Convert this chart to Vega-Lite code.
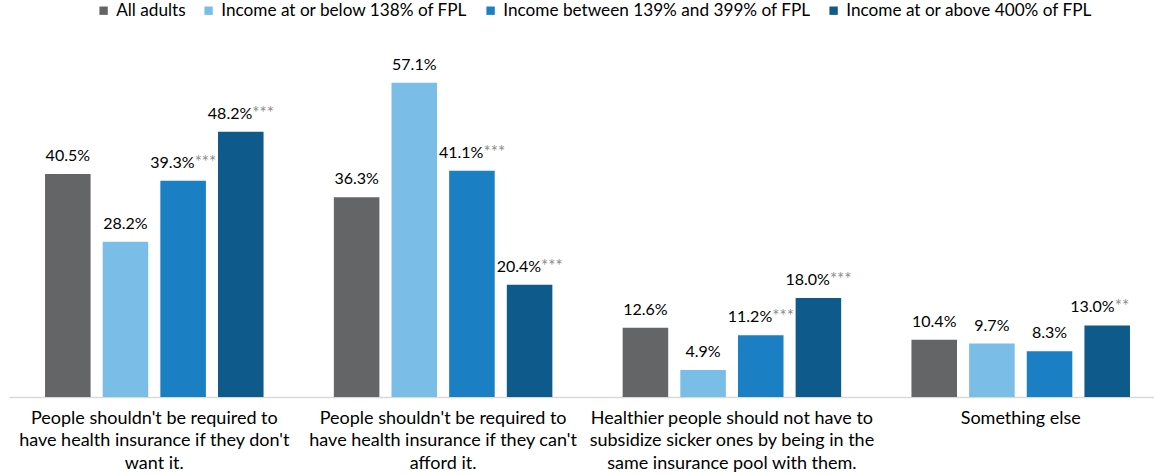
{
  "$schema": "https://vega.github.io/schema/vega-lite/v6.json",
  "width": 1145,
  "height": 367,
  "autosize": {"type": "none"},
  "padding": {"left": 9, "top": 30, "right": 0, "bottom": 78},
  "config": {
    "view": {"stroke": null},
    "font": "Lato",
    "text": {"font": "Lato"}
  },
  "data": {
    "values": [
      {"q": "People shouldn't be required to|have health insurance if they don't|want it.", "group": "All adults", "value": 0.405, "stars": ""},
      {"q": "People shouldn't be required to|have health insurance if they don't|want it.", "group": "Income at or below 138% of FPL", "value": 0.282, "stars": ""},
      {"q": "People shouldn't be required to|have health insurance if they don't|want it.", "group": "Income between 139% and 399% of FPL", "value": 0.393, "stars": "***"},
      {"q": "People shouldn't be required to|have health insurance if they don't|want it.", "group": "Income at or above 400% of FPL", "value": 0.482, "stars": "***"},
      {"q": "People shouldn't be required to|have health insurance if they can't|afford it.", "group": "All adults", "value": 0.363, "stars": ""},
      {"q": "People shouldn't be required to|have health insurance if they can't|afford it.", "group": "Income at or below 138% of FPL", "value": 0.571, "stars": ""},
      {"q": "People shouldn't be required to|have health insurance if they can't|afford it.", "group": "Income between 139% and 399% of FPL", "value": 0.411, "stars": "***"},
      {"q": "People shouldn't be required to|have health insurance if they can't|afford it.", "group": "Income at or above 400% of FPL", "value": 0.204, "stars": "***"},
      {"q": "Healthier people should not have to|subsidize sicker ones by being in the|same insurance pool with them.", "group": "All adults", "value": 0.126, "stars": ""},
      {"q": "Healthier people should not have to|subsidize sicker ones by being in the|same insurance pool with them.", "group": "Income at or below 138% of FPL", "value": 0.049, "stars": ""},
      {"q": "Healthier people should not have to|subsidize sicker ones by being in the|same insurance pool with them.", "group": "Income between 139% and 399% of FPL", "value": 0.112, "stars": "***"},
      {"q": "Healthier people should not have to|subsidize sicker ones by being in the|same insurance pool with them.", "group": "Income at or above 400% of FPL", "value": 0.180, "stars": "***"},
      {"q": "Something else", "group": "All adults", "value": 0.104, "stars": ""},
      {"q": "Something else", "group": "Income at or below 138% of FPL", "value": 0.097, "stars": ""},
      {"q": "Something else", "group": "Income between 139% and 399% of FPL", "value": 0.083, "stars": ""},
      {"q": "Something else", "group": "Income at or above 400% of FPL", "value": 0.130, "stars": "**"}
    ]
  },
  "encoding": {
    "x": {
      "field": "q",
      "type": "nominal",
      "sort": null,
      "scale": {"paddingInner": 0.2434, "paddingOuter": 0.104, "align": 0.6},
      "axis": {
        "title": null,
        "labelAngle": 0,
        "labelExpr": "split(datum.label, '|')",
        "labelFontSize": 18,
        "labelLineHeight": 22.5,
        "labelPadding": 12,
        "labelColor": "#000000",
        "labelLimit": 0,
        "labelFont": "Lato",
        "ticks": false,
        "domainColor": "#d9d9d9",
        "domainWidth": 1.5
      }
    },
    "xOffset": {
      "field": "group",
      "type": "nominal",
      "sort": ["All adults", "Income at or below 138% of FPL", "Income between 139% and 399% of FPL", "Income at or above 400% of FPL"],
      "scale": {"paddingInner": 0.21, "paddingOuter": 0}
    },
    "y": {
      "field": "value",
      "type": "quantitative",
      "scale": {"domain": [0, 0.6667], "nice": false, "zero": true},
      "axis": null
    }
  },
  "layer": [
    {
      "mark": {"type": "bar"},
      "encoding": {
        "color": {
          "field": "group",
          "type": "nominal",
          "sort": ["All adults", "Income at or below 138% of FPL", "Income between 139% and 399% of FPL", "Income at or above 400% of FPL"],
          "scale": {
            "domain": ["All adults", "Income at or below 138% of FPL", "Income between 139% and 399% of FPL", "Income at or above 400% of FPL"],
            "range": ["#646567", "#7abde7", "#1a7fc3", "#0e5a8a"]
          },
          "legend": {
            "title": null,
            "orient": "none",
            "direction": "horizontal",
            "legendX": 86,
            "legendY": -28,
            "symbolType": "square",
            "symbolSize": 70,
            "symbolStrokeWidth": 0,
            "labelFontSize": 17.2,
            "labelFont": "Lato",
            "labelColor": "#000000",
            "labelLimit": 0,
            "labelOffset": 4,
            "columnPadding": 14
          }
        }
      }
    },
    {
      "transform": [{"filter": "datum.stars == ''"}],
      "mark": {"type": "text", "baseline": "alphabetic", "align": "center", "dy": -13, "fontSize": 16, "color": "#000000"},
      "encoding": {"text": {"field": "value", "type": "quantitative", "format": ".1%"}}
    },
    {
      "transform": [{"filter": "datum.stars == '***'"}],
      "mark": {"type": "text", "baseline": "alphabetic", "align": "right", "dx": 11.5, "dy": -13, "fontSize": 16, "color": "#000000"},
      "encoding": {"text": {"field": "value", "type": "quantitative", "format": ".1%"}}
    },
    {
      "transform": [{"filter": "datum.stars == '***'"}],
      "mark": {"type": "text", "baseline": "alphabetic", "align": "left", "dx": 11.5, "dy": -13, "fontSize": 17, "color": "#8c8c8c"},
      "encoding": {"text": {"field": "stars", "type": "nominal"}}
    },
    {
      "transform": [{"filter": "datum.stars == '**'"}],
      "mark": {"type": "text", "baseline": "alphabetic", "align": "right", "dx": 7.5, "dy": -13, "fontSize": 16, "color": "#000000"},
      "encoding": {"text": {"field": "value", "type": "quantitative", "format": ".1%"}}
    },
    {
      "transform": [{"filter": "datum.stars == '**'"}],
      "mark": {"type": "text", "baseline": "alphabetic", "align": "left", "dx": 7.5, "dy": -13, "fontSize": 17, "color": "#8c8c8c"},
      "encoding": {"text": {"field": "stars", "type": "nominal"}}
    }
  ]
}
